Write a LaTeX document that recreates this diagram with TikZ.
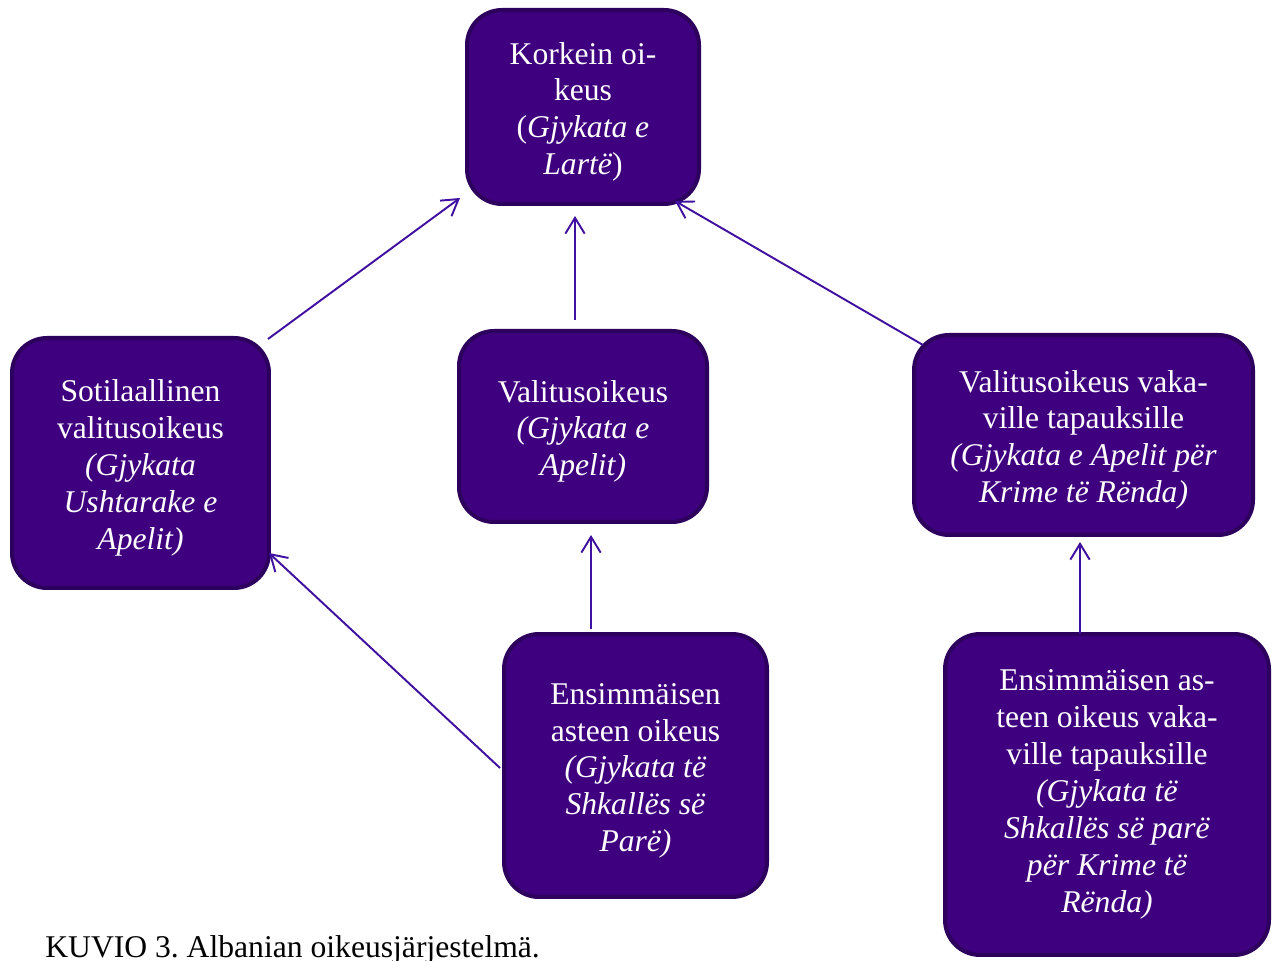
\documentclass[tikz,border=0pt]{standalone}
\usepackage{fontspec}
\setmainfont{Liberation Serif}
\usepackage{xcolor}
\usepackage{tikz}
\usetikzlibrary{arrows.meta, positioning}

\definecolor{courtfill}{RGB}{62,0,126}
\definecolor{courtedge}{RGB}{44,0,92}
\definecolor{appealline}{RGB}{64,16,160}

\newcommand{\courtgap}{\rule{0pt}{18pt}}

\tikzset{
	court/.style={draw=courtedge, line width=2.3pt, fill=courtfill, text=white,
		rounded corners=0.7cm, align=center, inner sep=2pt, outer sep=0pt,
		font=\fontsize{18}{21}\selectfont},
	appeal/.style={draw=appealline, line width=1.1pt, -{Straight Barb[length=9pt,width=11pt]}}
}

\begin{document}
\frenchspacing
\begin{tikzpicture}[x=0.02cm, y=0.02cm]
				\useasboundingbox (0,0) rectangle (1280,960);
				\node[court, minimum width=4.64cm, minimum height=3.88cm] (supreme) at (583,853)
					{\courtgap Korkein oi-\\keus\\(\textit{Gjykata e}\\\textit{Lartë})};
				\node[court, minimum width=5.14cm, minimum height=5.0cm] (military) at (140.5,497)
					{\courtgap Sotilaallinen\\valitusoikeus\\\textit{(Gjykata}\\\textit{Ushtarake e}\\\textit{Apelit)}};
				\node[court, minimum width=4.96cm, minimum height=3.82cm] (appeal) at (583,533.5)
					{\courtgap Valitusoikeus\\\textit{(Gjykata e}\\\textit{Apelit)}};
				\node[court, minimum width=6.78cm, minimum height=4.0cm] (seriousappeal) at (1083.5,525)
					{\courtgap Valitusoikeus vaka-\\ville tapauksille\\\textit{(Gjykata e Apelit për}\\\textit{Krime të Rënda)}};
				\node[court, minimum width=5.26cm, minimum height=5.26cm] (first) at (635.5,194.5)
					{\courtgap Ensimmäisen\\asteen oikeus\\\textit{(Gjykata të}\\\textit{Shkallës së}\\\textit{Parë)}};
				\node[court, minimum width=6.48cm, minimum height=6.42cm] (seriousfirst) at (1107,165.5)
					{Ensimmäisen as-\\teen oikeus vaka-\\ville tapauksille\\\textit{(Gjykata të}\\\textit{Shkallës së parë}\\\textit{për Krime të}\\\textit{Rënda)}};
				\node[anchor=base west, inner sep=0pt, font=\fontsize{18}{21}\selectfont] (caption) at (45,3)
					{KUVIO 3. Albanian oikeusjärjestelmä.};

				\draw[appeal] ([shift={(-1,-1)}]military.north east) -- ([shift={(-7,6)}]supreme.south west);
				\draw[appeal] ([shift={(-8,11)}]appeal.north) -- ([shift={(-8,-12)}]supreme.south);
				\draw[appeal] ([shift={(9,-10)}]seriousappeal.north west) -- ([shift={(-24,3)}]supreme.south east);
				\draw[appeal] ([shift={(-44.5,5)}]first.north) -- ([shift={(8,-13)}]appeal.south);
				\draw[appeal] ([shift={(-27,0)}]seriousfirst.north) -- ([shift={(-3.5,-7)}]seriousappeal.south);
				\draw[appeal] ([shift={(-4,-2.5)}]first.west) -- ([shift={(0,-90)}]military.east);
			\end{tikzpicture}
\end{document}
